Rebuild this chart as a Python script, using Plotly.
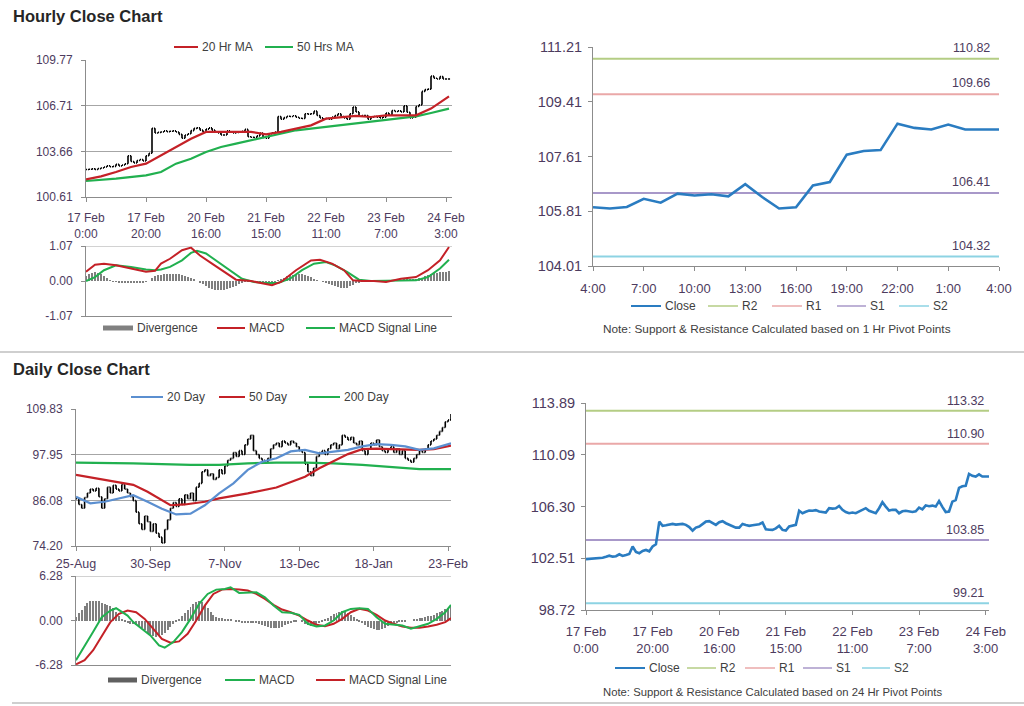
import plotly.graph_objects as go

# ------------------------------------------------------------------ data
# Hourly closes 17 Feb 0:00 (idx 0) .. 24 Feb 4:00 (idx 121), trading hours only
hourly_close = [
    102.45, 102.47, 102.49, 102.46, 102.51, 102.55, 102.62, 102.70, 102.63, 102.66,
    102.80, 102.68, 102.75, 102.83, 103.37, 102.98, 102.88, 103.05, 103.12, 103.02,
    103.37, 103.54, 105.20, 104.89, 104.93, 104.96, 105.03, 104.98, 105.01, 105.03,
    104.96, 104.80, 104.54, 104.76, 104.84, 105.05, 105.20, 105.23, 105.08, 104.96,
    105.15, 105.23, 105.08, 104.96, 104.90, 104.76, 104.76, 105.03, 104.95, 104.89,
    104.93, 104.97, 105.01, 105.13, 104.64, 104.60, 104.59, 104.70, 104.89, 104.59,
    104.54, 104.84, 104.90, 104.96, 105.99, 105.81, 105.92, 106.01, 105.99, 106.04,
    105.94, 105.88, 105.86, 106.18, 106.15, 106.18, 106.35, 106.06, 105.90, 105.81,
    105.86, 105.81, 105.95, 106.06, 106.18, 105.99, 105.90, 105.81, 106.18, 106.62,
    106.30, 106.01, 106.06, 106.06, 105.81, 105.95, 105.99,
    105.94, 105.90, 105.95, 106.22, 106.09, 106.39, 106.33, 106.37, 106.30, 106.70,
    106.28, 105.90, 105.94, 106.66, 106.77, 107.67, 107.79, 107.82, 108.69, 108.55,
    108.50, 108.66, 108.50, 108.50, 108.50,
]
hourly_ticks = [0, 20, 40, 60, 80, 100, 120]
hourly_tick_labels = ["17 Feb<br>0:00", "17 Feb<br>20:00", "20 Feb<br>16:00", "21 Feb<br>15:00",
                      "22 Feb<br>11:00", "23 Feb<br>7:00", "24 Feb<br>3:00"]

ma20h_x = [0, 5, 10, 15, 20, 25, 30, 35, 40, 45, 50, 55, 60, 65, 70, 75, 80, 85, 90, 95, 100, 105, 110, 115, 120, 121]
ma20h_y = [101.79, 101.99, 102.28, 102.62, 102.84, 103.40, 103.95, 104.51, 104.96, 104.96, 104.96, 104.96, 104.80,
           104.96, 105.18, 105.40, 105.85, 105.96, 106.03, 105.96, 106.07, 106.07, 106.07, 106.52, 107.18, 107.34]
ma50h_x = [0, 10, 20, 25, 30, 35, 40, 45, 50, 55, 60, 65, 70, 75, 80, 85, 90, 95, 100, 105, 110, 115, 120, 121]
ma50h_y = [101.68, 101.84, 102.06, 102.28, 102.84, 103.17, 103.62, 103.95, 104.18, 104.40, 104.62, 104.84, 105.07,
           105.18, 105.29, 105.40, 105.51, 105.62, 105.74, 105.85, 106.00, 106.23, 106.47, 106.52]

macdh_x = [0, 3, 6, 10, 15, 20, 23, 25, 28, 32, 35, 38, 42, 46, 50, 55, 60, 62, 65, 70, 75, 78, 82, 86, 89, 92,
           96, 100, 105, 110, 114, 118, 121]
macdh_y = [0.28, 0.50, 0.53, 0.48, 0.38, 0.28, 0.31, 0.53, 0.68, 0.94, 1.02, 0.78, 0.53, 0.28, 0.04, 0.00, -0.08,
           -0.13, -0.03, 0.33, 0.63, 0.65, 0.53, 0.33, 0.02, 0.00, 0.00, -0.03, 0.07, 0.12, 0.33, 0.63, 1.04]
sigh_x = [0, 3, 6, 10, 15, 20, 23, 25, 28, 32, 35, 37, 40, 44, 48, 52, 56, 60, 64, 68, 72, 76, 80, 83, 87, 91, 95,
          100, 105, 110, 114, 118, 121]
sigh_y = [0.00, 0.12, 0.33, 0.48, 0.43, 0.35, 0.33, 0.35, 0.43, 0.63, 0.86, 0.92, 0.84, 0.58, 0.33, 0.07, -0.03,
          -0.06, -0.06, 0.07, 0.33, 0.53, 0.58, 0.48, 0.28, 0.04, 0.00, 0.00, 0.00, 0.02, 0.12, 0.38, 0.65]
divh_y = [
    0.15, 0.22, 0.26, 0.27, 0.25, 0.20, 0.14, 0.08, 0.03, -0.01,
    -0.03, -0.05, -0.06, -0.05, -0.06, -0.07, -0.06, -0.05, -0.06, -0.04,
    -0.03, 0.00, 0.08, 0.14, 0.17, 0.18, 0.20, 0.21, 0.22, 0.22,
    0.22, 0.20, 0.18, 0.15, 0.12, 0.08, 0.04, 0.00, -0.05, -0.10,
    -0.15, -0.20, -0.24, -0.27, -0.28, -0.28, -0.27, -0.25, -0.22, -0.18,
    -0.14, -0.10, -0.06, -0.03, -0.02, -0.02, -0.03, -0.03, -0.04, -0.05,
    -0.05, -0.04, -0.03, -0.02, 0.02, 0.06, 0.10, 0.14, 0.17, 0.19,
    0.20, 0.21, 0.20, 0.18, 0.15, 0.11, 0.07, 0.03, 0.00, -0.03,
    -0.06, -0.09, -0.12, -0.15, -0.18, -0.20, -0.21, -0.20, -0.16, -0.11,
    -0.07, -0.04, -0.02, -0.01, -0.01, 0.00, -0.01, -0.01, -0.02, -0.01,
    -0.01, 0.00, 0.01, 0.02, 0.02, 0.03, 0.04, 0.04, 0.04, 0.05,
    0.06, 0.08, 0.10, 0.14, 0.18, 0.21, 0.24, 0.26, 0.27, 0.28,
    0.29, 0.30,
]

# 1 Hr pivots (last 25 hours)
last_hours = ["4:00", "7:00", "10:00", "13:00", "16:00", "19:00", "22:00", "1:00", "4:00"]
piv1h = {"R2": 110.82, "R1": 109.66, "S1": 106.41, "S2": 104.32}
piv24h = {"R2": 113.32, "R1": 110.90, "S1": 103.85, "S2": 99.21}

# Daily closes 25-Aug (idx 0) .. 24-Feb (idx 131), weekdays
daily_close = [
    86.5, 85.0, 84.0, 86.8, 88.0, 89.0, 88.5, 89.2, 87.0, 84.0,
    86.5, 89.5, 88.0, 90.0, 89.0, 88.5, 90.2, 89.0, 88.0, 87.0,
    86.0, 83.0, 80.0, 78.5, 82.0, 80.5, 78.0, 80.0, 77.5, 76.5,
    75.0, 78.5, 81.0, 84.0, 85.5, 84.5, 86.5, 85.0, 87.5, 86.5,
    88.0, 86.0, 89.5, 90.5, 93.5, 94.0, 92.5, 93.0, 91.5, 92.0,
    94.0, 93.0, 95.0, 96.5, 97.0, 98.5, 97.5, 99.0, 98.0, 100.5,
    102.0, 103.0, 99.0, 98.0, 97.0, 96.5, 96.0, 97.0, 99.5, 100.5,
    101.0, 100.0, 101.5, 101.0, 100.5, 101.5, 101.0, 100.0, 99.0, 98.5,
    95.5, 93.5, 92.5, 94.5, 97.5, 98.5, 99.0, 98.0, 99.5, 100.5,
    101.0, 99.5, 100.5, 103.0, 102.5, 101.8, 102.5, 101.0, 100.5, 101.5,
    99.0, 98.0, 99.5, 101.0, 100.5, 101.8, 100.0, 99.0, 98.5, 99.5,
    100.0, 98.5, 99.5, 98.0, 99.0, 97.0, 96.5, 96.0, 97.0, 98.0,
    99.0, 98.5, 99.5, 100.5, 101.5, 102.0, 103.0, 104.0, 105.0, 106.5,
    107.0, 108.5,
]
daily_ticks = [0, 26, 52, 78, 104, 130]
daily_tick_labels = ["25-Aug", "30-Sep", "7-Nov", "13-Dec", "18-Jan", "23-Feb"]

ma20d_x = [0, 5, 10, 15, 20, 25, 30, 35, 40, 45, 50, 55, 60, 65, 70, 75, 80, 85, 90, 95, 100, 105, 110, 115, 120, 125, 131]
ma20d_y = [87.0, 85.3, 85.7, 86.6, 87.4, 85.7, 83.9, 82.4, 82.6, 84.8, 87.9, 90.5, 94.0, 96.1, 97.0, 98.8, 99.2, 98.3,
           98.8, 99.2, 100.1, 100.7, 100.5, 100.1, 99.2, 99.6, 100.9]
ma50d_x = [0, 10, 20, 25, 30, 33, 38, 45, 50, 60, 70, 80, 85, 90, 95, 100, 105, 110, 120, 125, 131]
ma50d_y = [92.7, 91.4, 90.1, 88.3, 86.1, 84.8, 85.0, 85.7, 86.6, 87.9, 89.4, 92.2, 94.4, 96.3, 98.1, 99.4, 99.5, 99.4,
           99.2, 99.4, 100.3]
ma200d_x = [0, 20, 40, 50, 60, 70, 80, 90, 100, 110, 115, 120, 131]
ma200d_y = [95.9, 95.7, 95.3, 95.3, 95.7, 95.9, 95.9, 95.7, 95.3, 94.8, 94.4, 94.2, 94.2]

macdd_x = [0, 3, 6, 9, 12, 14, 16, 18, 20, 23, 26, 29, 31, 34, 37, 40, 43, 46, 49, 52, 54, 57, 60, 63, 66, 69, 72,
           75, 78, 81, 84, 87, 90, 93, 96, 99, 102, 105, 108, 111, 114, 117, 120, 123, 126, 129, 131]
macdd_y = [-5.6, -3.5, -1.6, 0.47, 1.41, 1.73, 1.17, 0.70, -0.23, -1.17, -2.1, -3.5, -3.84, -3.05, -1.64, 0.23, 2.34,
           3.75, 4.36, 4.45, 4.69, 3.89, 3.89, 3.98, 3.28, 2.11, 1.17, 1.08, 0.80, -0.47, -0.84, -0.70, 0.0, 1.17,
           1.64, 1.73, 1.64, 0.47, -0.47, -0.61, -0.70, -1.17, -0.80, -0.47, 0.23, 1.17, 2.2]
sigd_x = [0, 3, 6, 9, 12, 15, 18, 21, 24, 27, 30, 33, 36, 39, 42, 45, 48, 51, 54, 57, 60, 63, 66, 69, 72, 75, 78,
          81, 84, 87, 90, 93, 96, 99, 102, 105, 108, 111, 114, 117, 120, 123, 126, 129, 131]
sigd_y = [-6.19, -5.6, -4.2, -2.3, -0.23, 0.94, 1.41, 1.17, 0.23, -1.17, -2.6, -3.14, -2.95, -1.87, 0.0, 2.11, 3.75,
          4.36, 4.45, 4.36, 4.22, 3.75, 3.05, 2.2, 1.55, 1.17, 0.70, 0.0, -0.61, -0.80, -0.47, 0.23, 1.17, 1.64, 1.41,
          0.80, 0.0, -0.47, -0.84, -1.03, -1.03, -0.84, -0.61, -0.23, 0.33]
divd_y = [
    0.5, 1.0, 1.5, 2.0, 2.4, 2.7, 2.8, 2.8, 2.7, 2.5,
    2.3, 2.2, 2.0, 1.7, 1.2, 0.6, 0.2, -0.2, -0.4, -0.5,
    -0.5, -0.6, -0.8, -1.1, -1.4, -1.7, -2.0, -2.2, -2.3, -2.2,
    -2.0, -1.7, -1.3, -0.9, -0.5, -0.2, 0.2, 0.6, 1.0, 1.5,
    1.9, 2.3, 2.6, 2.8, 2.6, 2.2, 1.7, 1.2, 0.8, 0.5,
    0.4, 0.3, 0.2, 0.2, 0.1, 0.0, -0.1, -0.2, -0.3, -0.3,
    -0.4, -0.4, -0.3, -0.4, -0.5, -0.6, -0.8, -0.9, -1.0, -1.1,
    -1.1, -1.0, -0.9, -0.7, -0.5, -0.3, -0.2, -0.1, 0.0, -0.2,
    -0.5, -0.7, -0.8, -0.8, -0.6, -0.4, -0.2, 0.1, 0.4, 0.7,
    0.9, 1.1, 1.2, 1.3, 1.2, 1.0, 0.8, 0.5, 0.2, -0.1,
    -0.4, -0.7, -0.9, -1.1, -1.2, -1.3, -1.3, -1.2, -1.0, -0.8,
    -0.6, -0.4, -0.3, -0.2, -0.1, -0.1, 0.0, 0.0, 0.1, 0.2,
    0.3, 0.4, 0.5, 0.6, 0.7, 0.8, 1.0, 1.2, 1.4, 1.6,
    1.8, 2.0,
]

# ------------------------------------------------------------------ styling
W, H = 1024, 706
def X(px): return px / W
def Y(py): return 1 - py / H

FONT = "Liberation Sans, Arial, sans-serif"
TICK_COL = "#4d3b5e"
TXT_COL = "#404040"
AX_COL = "#8c8c8c"
GRID_COL = "#a6a6a6"
RED = "#c42127"
GREEN = "#21b04f"
BLUE20 = "#5b8fd0"
CLOSE_BLUE = "#2a7cc1"
BAR_GRAY = "#7f7f7f"
PIV_COL = {"R2": "#b4cd84", "R1": "#eaa8a8", "S1": "#a898c9", "S2": "#8dd3e3"}

fig = go.Figure()

hx = list(range(len(hourly_close)))
h_open = [hourly_close[0]] + hourly_close[:-1]
fig.add_trace(go.Ohlc(x=hx, open=h_open, close=hourly_close,
                      high=[max(a, b) for a, b in zip(h_open, hourly_close)],
                      low=[min(a, b) for a, b in zip(h_open, hourly_close)],
                      increasing=dict(line=dict(color="black", width=1.6)),
                      decreasing=dict(line=dict(color="black", width=1.6)),
                      tickwidth=0.35, xaxis="x", yaxis="y"))
fig.add_trace(go.Scatter(x=ma50h_x, y=ma50h_y, mode="lines", line=dict(color=GREEN, width=2.2), xaxis="x", yaxis="y"))
fig.add_trace(go.Scatter(x=ma20h_x, y=ma20h_y, mode="lines", line=dict(color=RED, width=2.2), xaxis="x", yaxis="y"))

fig.add_trace(go.Bar(x=hx, y=divh_y, width=0.35, marker=dict(color=BAR_GRAY, line=dict(width=0)), xaxis="x2", yaxis="y2"))
fig.add_trace(go.Scatter(x=sigh_x, y=sigh_y, mode="lines", line=dict(color=GREEN, width=2), xaxis="x2", yaxis="y2"))
fig.add_trace(go.Scatter(x=macdh_x, y=macdh_y, mode="lines", line=dict(color=RED, width=2), xaxis="x2", yaxis="y2"))

last25 = hourly_close[-25:]
for k, v in piv1h.items():
    fig.add_trace(go.Scatter(x=[0, 24], y=[v, v], mode="lines", line=dict(color=PIV_COL[k], width=2), xaxis="x3", yaxis="y3"))
fig.add_trace(go.Scatter(x=list(range(25)), y=last25, mode="lines", line=dict(color=CLOSE_BLUE, width=2.6), xaxis="x3", yaxis="y3"))

dx = list(range(len(daily_close)))
d_open = [daily_close[0]] + daily_close[:-1]
fig.add_trace(go.Ohlc(x=dx, open=d_open, close=daily_close,
                      high=[max(a, b) for a, b in zip(d_open, daily_close)],
                      low=[min(a, b) for a, b in zip(d_open, daily_close)],
                      increasing=dict(line=dict(color="black", width=1.6)),
                      decreasing=dict(line=dict(color="black", width=1.6)),
                      tickwidth=0.35, xaxis="x4", yaxis="y4"))
fig.add_trace(go.Scatter(x=ma200d_x, y=ma200d_y, mode="lines", line=dict(color=GREEN, width=2.2), xaxis="x4", yaxis="y4"))
fig.add_trace(go.Scatter(x=ma50d_x, y=ma50d_y, mode="lines", line=dict(color=RED, width=2.2), xaxis="x4", yaxis="y4"))
fig.add_trace(go.Scatter(x=ma20d_x, y=ma20d_y, mode="lines", line=dict(color=BLUE20, width=2.2), xaxis="x4", yaxis="y4"))

fig.add_trace(go.Bar(x=dx, y=divd_y, width=0.35, marker=dict(color=BAR_GRAY, line=dict(width=0)), xaxis="x5", yaxis="y5"))
fig.add_trace(go.Scatter(x=sigd_x, y=sigd_y, mode="lines", line=dict(color=RED, width=2), xaxis="x5", yaxis="y5"))
fig.add_trace(go.Scatter(x=macdd_x, y=macdd_y, mode="lines", line=dict(color=GREEN, width=2), xaxis="x5", yaxis="y5"))

for k, v in piv24h.items():
    fig.add_trace(go.Scatter(x=[0, 121], y=[v, v], mode="lines", line=dict(color=PIV_COL[k], width=2), xaxis="x6", yaxis="y6"))
fig.add_trace(go.Scatter(x=hx, y=hourly_close, mode="lines", line=dict(color=CLOSE_BLUE, width=2.6), xaxis="x6", yaxis="y6"))


def xax(l, r, anchor, rng, tv=None, tt=None, size=12, standoff=4):
    d = dict(domain=[X(l), X(r)], anchor=anchor, range=rng, showline=True, linecolor=AX_COL, linewidth=1,
             showgrid=False, zeroline=False, fixedrange=True, rangeslider=dict(visible=False), automargin=False,
             tickfont=dict(family=FONT, size=size, color=TICK_COL))
    if tv is None:
        d.update(showticklabels=False, ticks="")
    else:
        d.update(tickmode="array", tickvals=tv, ticktext=tt, ticks="outside", ticklen=4, tickcolor=AX_COL,
                 ticklabelstandoff=standoff)
    return d


def yax(top, bot, anchor, rng, tv, grid=True, size=12, standoff=6):
    return dict(domain=[Y(bot), Y(top)], anchor=anchor, range=rng, tickmode="array", tickvals=tv,
                ticktext=["%.2f" % v for v in tv], ticks="outside", ticklen=4, tickcolor=AX_COL,
                showline=True, linecolor=AX_COL, linewidth=1, showgrid=grid, gridcolor=GRID_COL, gridwidth=1,
                zeroline=False, fixedrange=True, ticklabelstandoff=standoff, automargin=False,
                tickfont=dict(family=FONT, size=size, color=TICK_COL))


fig.update_layout(
    width=W, height=H, autosize=False, margin=dict(l=0, r=0, t=0, b=0, pad=0, autoexpand=False),
    paper_bgcolor="white", plot_bgcolor="white", showlegend=False, bargap=0,
    font=dict(family=FONT, color=TXT_COL),
    xaxis=xax(86, 452, "y", [0, 122], hourly_ticks, hourly_tick_labels, standoff=6),
    yaxis=yax(60, 197, "x", [100.61, 109.77], [100.61, 103.66, 106.71, 109.77]),
    xaxis2=xax(86, 452, "y2", [0, 122]),
    yaxis2=yax(246, 316, "x2", [-1.07, 1.07], [-1.07, 0.0, 1.07], grid=False),
    xaxis3=xax(593, 999, "y3", [0, 24], list(range(0, 25, 3)), last_hours, size=13, standoff=6),
    yaxis3=yax(47, 266, "x3", [104.01, 111.21], [104.01, 105.81, 107.61, 109.41, 111.21], grid=False, size=14.5, standoff=3),
    xaxis4=xax(76, 451, "y4", [0, 131], daily_ticks, daily_tick_labels, size=12.5, standoff=2),
    yaxis4=yax(409, 546, "x4", [74.20, 109.83], [74.20, 86.08, 97.95, 109.83]),
    xaxis5=xax(76, 451, "y5", [0, 131]),
    yaxis5=yax(576, 665, "x5", [-6.28, 6.28], [-6.28, 0.0, 6.28], grid=False),
    xaxis6=xax(586, 989, "y6", [0, 121], hourly_ticks, hourly_tick_labels, size=13, standoff=5),
    yaxis6=yax(403, 610, "x6", [98.72, 113.89], [98.72, 102.51, 106.30, 110.09, 113.89], grid=False, size=14.5, standoff=3),
)

shapes = []
ann = []
# MACD panel top borders
shapes.append(dict(type="line", xref="x2 domain", yref="y2", x0=0, x1=1, y0=1.07, y1=1.07, line=dict(color=GRID_COL, width=1)))
shapes.append(dict(type="line", xref="x5 domain", yref="y5", x0=0, x1=1, y0=6.28, y1=6.28, line=dict(color=GRID_COL, width=1)))
# separators
shapes.append(dict(type="line", xref="paper", yref="paper", x0=0, x1=1, y0=Y(352), y1=Y(352), line=dict(color="#a0a0a0", width=1.2)))
shapes.append(dict(type="line", xref="paper", yref="paper", x0=X(12), x1=1, y0=Y(703), y1=Y(703), line=dict(color="#a0a0a0", width=1.2)))

ann.append(dict(text="<b>Hourly Close Chart</b>", x=X(11), y=Y(16), xref="paper", yref="paper", xanchor="left",
                yanchor="middle", showarrow=False, font=dict(size=16.5, color="#262626", family=FONT)))
ann.append(dict(text="<b>Daily Close Chart</b>", x=X(11), y=Y(369), xref="paper", yref="paper", xanchor="left",
                yanchor="middle", showarrow=False, font=dict(size=16.5, color="#262626", family=FONT)))


def legend(items, yp, size=12):
    for kind, color, x0, x1, label in items:
        if kind == "bar":
            shapes.append(dict(type="rect", xref="paper", yref="paper", x0=X(x0), x1=X(x1), y0=Y(yp + 2.5),
                               y1=Y(yp - 2.5), fillcolor=color, line=dict(width=0)))
        else:
            shapes.append(dict(type="line", xref="paper", yref="paper", x0=X(x0), x1=X(x1), y0=Y(yp), y1=Y(yp),
                               line=dict(color=color, width=2 if kind == "thick" else 1.5)))
        ann.append(dict(text=label, x=X(x1 + 2), y=Y(yp), xref="paper", yref="paper", xanchor="left",
                        yanchor="middle", showarrow=False, font=dict(size=size, color=TXT_COL, family=FONT)))


legend([("thick", RED, 174, 198, "20 Hr MA"), ("thick", GREEN, 265, 293, "50 Hrs MA")], 47)
legend([("bar", "#808080", 103, 133, "Divergence"), ("thick", RED, 217, 245, "MACD"),
        ("thick", GREEN, 306, 335, "MACD Signal Line")], 328)
legend([("thick", CLOSE_BLUE, 631, 661, "Close"), ("thin", PIV_COL["R2"], 708, 738, "R2"),
        ("thin", PIV_COL["R1"], 772, 802, "R1"), ("thin", PIV_COL["S1"], 837, 866, "S1"),
        ("thin", PIV_COL["S2"], 899, 929, "S2")], 306, size=12)
legend([("thick", BLUE20, 131, 163, "20 Day"), ("thick", RED, 219, 245, "50 Day"),
        ("thick", GREEN, 309, 340, "200 Day")], 397)
legend([("bar", "#606060", 108, 137, "Divergence"), ("thick", GREEN, 225, 255, "MACD"),
        ("thick", RED, 316, 345, "MACD Signal Line")], 680)
legend([("thick", CLOSE_BLUE, 615, 645, "Close"), ("thin", PIV_COL["R2"], 687, 716, "R2"),
        ("thin", PIV_COL["R1"], 745, 775, "R1"), ("thin", PIV_COL["S1"], 803, 832, "S1"),
        ("thin", PIV_COL["S2"], 862, 890, "S2")], 668, size=12)

ann.append(dict(text="Note: Support & Resistance Calculated based on 1 Hr Pivot Points", x=X(777), y=Y(329),
                xref="paper", yref="paper", xanchor="center", yanchor="middle", showarrow=False,
                font=dict(size=11.8, color=TXT_COL, family=FONT)))
ann.append(dict(text="Note: Support & Resistance Calculated based on 24 Hr Pivot Points", x=X(772), y=Y(692),
                xref="paper", yref="paper", xanchor="center", yanchor="middle", showarrow=False,
                font=dict(size=11.3, color=TXT_COL, family=FONT)))

for k, v in piv1h.items():
    ann.append(dict(text="%.2f" % v, x=X(992), y=v, xref="paper", yref="y3", xanchor="right", yanchor="middle",
                    yshift=11, showarrow=False, font=dict(size=12.5, color=TICK_COL, family=FONT)))
for k, v in piv24h.items():
    ann.append(dict(text="%.2f" % v, x=X(986), y=v, xref="paper", yref="y6", xanchor="right", yanchor="middle",
                    yshift=10, showarrow=False, font=dict(size=12.5, color=TICK_COL, family=FONT)))

fig.update_layout(shapes=shapes, annotations=ann)
fig.write_html("out.html", config={"displayModeBar": False},
               post_script="document.body.style.margin='0';document.body.style.overflow='hidden';")
